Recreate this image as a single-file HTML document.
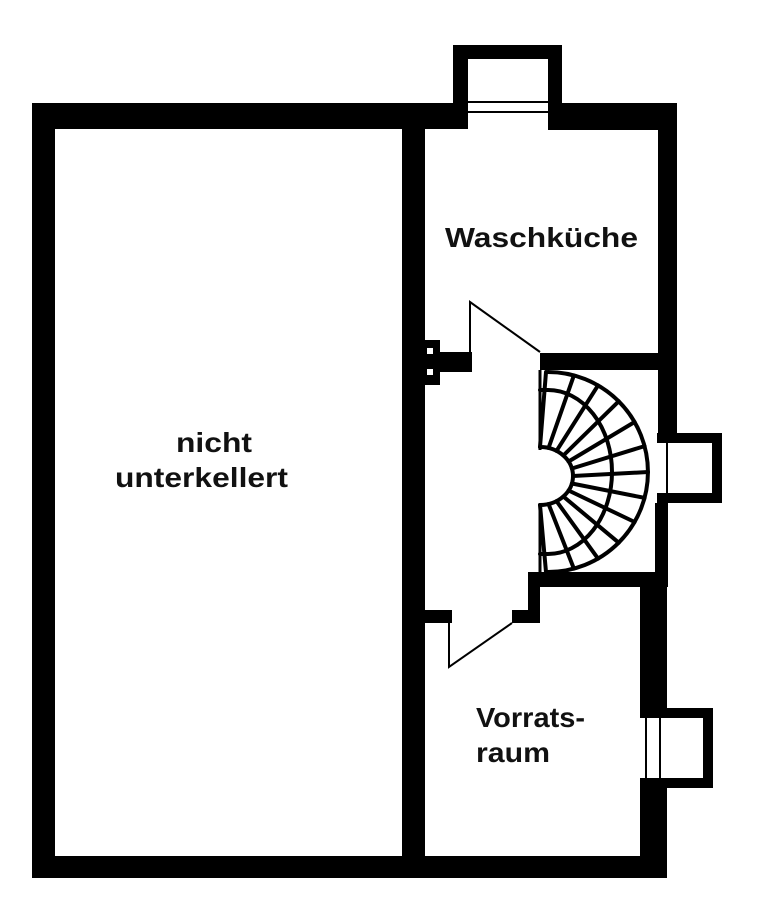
<!DOCTYPE html>
<html><head><meta charset="utf-8"><style>
html,body{margin:0;padding:0;background:#fff;}
svg{display:block}
text{font-family:"Liberation Sans",Arial,sans-serif;font-weight:bold;font-size:28px;fill:#111}
</style></head><body>
<svg id="s" width="769" height="912" viewBox="0 0 769 912" xmlns="http://www.w3.org/2000/svg">
<g fill="#000">
<rect x="32" y="103" width="23" height="775"/>
<rect x="32" y="103" width="436" height="26"/>
<rect x="548" y="103" width="129" height="27"/>
<rect x="453" y="45" width="109" height="14"/>
<rect x="453" y="45" width="15" height="84"/>
<rect x="548" y="45" width="14" height="85"/>
<rect x="658" y="103" width="19" height="332"/>
<rect x="402" y="103" width="23" height="775"/>
<rect x="32" y="856" width="635" height="22"/>
<rect x="540" y="353" width="135" height="17"/>
<rect x="657" y="433" width="65" height="10"/>
<rect x="657" y="493" width="65" height="10"/>
<rect x="712" y="433" width="10" height="70"/>
<rect x="655" y="503" width="13" height="80"/>
<rect x="528" y="572" width="140" height="15"/>
<rect x="528" y="572" width="12" height="51"/>
<rect x="512" y="610" width="28" height="13"/>
<rect x="640" y="572" width="27" height="138"/>
<rect x="640" y="786" width="27" height="92"/>
<rect x="640" y="708" width="73" height="10"/>
<rect x="640" y="778" width="73" height="10"/>
<rect x="703" y="708" width="10" height="80"/>
<rect x="415" y="340" width="25" height="45"/>
<rect x="425" y="352" width="47" height="20"/>
<rect x="425" y="610" width="27" height="13"/>
</g>
<g fill="#fff">
<rect x="427" y="348" width="6" height="6"/>
<rect x="427" y="369" width="6" height="6"/>
</g>
<g stroke="#000" fill="none">
<line x1="468" y1="102" x2="548" y2="102" stroke-width="2"/>
<line x1="468" y1="112" x2="548" y2="112" stroke-width="2"/>
<line x1="667" y1="443" x2="667" y2="493" stroke-width="2"/>
<line x1="646" y1="718" x2="646" y2="778" stroke-width="2"/>
<line x1="660" y1="718" x2="660" y2="778" stroke-width="2"/>
<polyline points="470,352 470,302 540,352" stroke-width="2"/>
<polyline points="449,623 449,667 512,623" stroke-width="2"/>
<line x1="540" y1="370" x2="540" y2="450" stroke-width="3"/>
<line x1="540" y1="505" x2="540" y2="572" stroke-width="3"/>
</g>
<g id="st" stroke="#000" stroke-width="4" fill="none" stroke-linecap="round">
<path d="M548,372 A100,100 0 0 1 548,572"/>
<path d="M540,390 L548,390 A64,82 0 0 1 548,554 L540,554"/>
<path d="M540,447 A33,29 0 0 1 540,505"/>
<line x1="540" y1="447" x2="546" y2="372"/>
<line x1="540" y1="505" x2="546" y2="572"/>
</g>
<text x="445" y="247" textLength="193" lengthAdjust="spacingAndGlyphs">Waschküche</text>
<text x="176" y="452" textLength="76" lengthAdjust="spacingAndGlyphs">nicht</text>
<text x="115" y="487" textLength="173" lengthAdjust="spacingAndGlyphs">unterkellert</text>
<text x="476" y="727" textLength="109" lengthAdjust="spacingAndGlyphs">Vorrats-</text>
<text x="476" y="762" textLength="74" lengthAdjust="spacingAndGlyphs">raum</text>
</svg>
<script>
var g=document.getElementById('st'),ns='http://www.w3.org/2000/svg';
for(var i=0;i<11;i++){var a=(-75+i*15)*Math.PI/180;
var x1=540+33*Math.cos(a),y1=476+29*Math.sin(a);
var x2=548+100*Math.cos(a),y2=472+100*Math.sin(a);
var l=document.createElementNS(ns,'line');
l.setAttribute('x1',x1);l.setAttribute('y1',y1);l.setAttribute('x2',x2);l.setAttribute('y2',y2);g.appendChild(l);}
</script>
</body></html>
